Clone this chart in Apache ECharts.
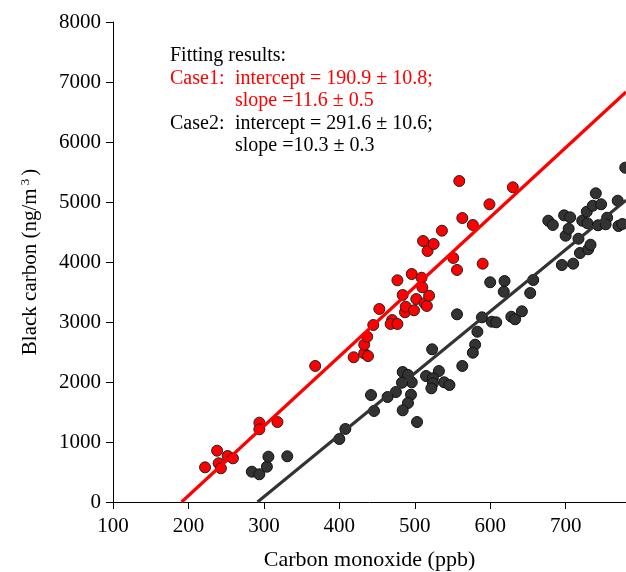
<!DOCTYPE html>
<html>
<head>
<meta charset="utf-8">
<script src="https://cdn.jsdelivr.net/npm/echarts@6/dist/echarts.min.js"></script>
<style>
html,body{margin:0;padding:0;background:#fff;}
#chart{width:626px;height:572px;}
</style>
</head>
<body>
<div id="chart"></div>
<script>
var xTicks = [100, 200, 300, 400, 500, 600, 700];
var yTicks = [0, 1000, 2000, 3000, 4000, 5000, 6000, 7000, 8000];

var case1X = [222,238,240,243,252,259,294,294,318,368,419,433,438,433,437,445,453,470,468,477,487,488,499,484,502,513,516,519,477,496,509,510,517,511,525,536,551,556,590,563,577,599,559,630];
var case1Y = [578,855,645,562,767,728,1322,1212,1333,2267,2412,2478,2433,2622,2755,2950,3217,3033,2967,2967,3162,3255,3195,3450,3383,3312,3267,3438,3695,3800,3738,3578,4183,4350,4300,4522,4067,3867,3972,4733,4617,4962,5350,5245];

var case2X = [284,294,304,306,331,400,408,442,446,484,491,532,515,524,496,483,524,539,546,522,475,464,495,491,484,503,556,589,602,608,628,633,642,583,580,577,523,563,600,619,618,657,653,695,710,719,730,733,717,700,704,677,683,698,706,722,729,728,736,747,740,755,743,753,769,770,775,779];
var case2Y = [505,462,588,755,762,1050,1217,1783,1517,2167,2117,2183,2100,2062,1995,1988,1978,1995,1950,1895,1833,1750,1788,1650,1528,1333,3128,3078,3005,2995,3088,3045,3178,2838,2622,2488,2545,2267,3662,3683,3505,3700,3483,3950,3972,4150,4212,4288,4388,4438,4555,4688,4617,4778,4745,4688,4645,4838,4938,4962,5145,4738,4612,4628,5022,4600,4633,5572];

var fitIntercept = [190.9, 291.6];
var fitSlope = [11.6, 10.3];
var xMin = 100, xMax = 780, yMin = 0, yMax = 8000;

var annoLines = [
  ["Fitting results:", ""],
  ["Case1:", "intercept = 190.9 \u00b1 10.8;"],
  ["", "slope =11.6 \u00b1 0.5"],
  ["Case2:", "intercept = 291.6 \u00b1 10.6;"],
  ["", "slope =10.3 \u00b1 0.3"]
];
var annoColors = ["#000", "#ff0000", "#ff0000", "#000", "#000"];

function zip(a, b) { return a.map(function (v, i) { return [v, b[i]]; }); }
function fitLine(k) {
  var b = fitIntercept[k], s = fitSlope[k];
  return [[b, 0], [xMax, s * (xMax - b)]];
}

var FONT = "Liberation Serif";
var chart = echarts.init(document.getElementById('chart'), null, {renderer: 'canvas'});

var graphics = [];
var annoY = [57, 80, 102, 125, 147];
annoLines.forEach(function (ln, i) {
  if (ln[0]) graphics.push({type: 'text', left: 170, top: annoY[i] - 11, style: {text: ln[0], fill: annoColors[i], font: '20px "' + FONT + '"'}});
  if (ln[1]) graphics.push({type: 'text', left: 235, top: annoY[i] - 11, style: {text: ln[1], fill: annoColors[i], font: '20px "' + FONT + '"'}});
});

var option = {
  backgroundColor: '#fff',
  animation: false,
  grid: {left: 113, right: 0, top: 22, bottom: 70, containLabel: false, outerBoundsMode: 'none'},
  xAxis: {
    type: 'value', min: xMin, max: xMax, interval: 100,
    name: 'Carbon monoxide (ppb)', nameLocation: 'middle', nameGap: 47,
    nameTextStyle: {fontFamily: FONT, fontSize: 22, color: '#000'},
    axisLine: {show: true, onZero: false, lineStyle: {color: '#000', width: 1}},
    axisTick: {show: true, inside: false, length: 7, lineStyle: {color: '#000'}, customValues: xTicks},
    axisLabel: {fontFamily: FONT, fontSize: 21, color: '#000', margin: 14, customValues: xTicks,
      formatter: function (v) { return String(v); }},
    splitLine: {show: false}
  },
  yAxis: {
    type: 'value', min: yMin, max: yMax, interval: 1000,
    name: 'Black carbon (ng/m{sup|3})', nameLocation: 'middle', nameGap: 71, nameRotate: 90,
    nameTextStyle: {fontFamily: FONT, fontSize: 21, color: '#000',
      rich: {sup: {fontFamily: FONT, fontSize: 13, color: '#000', verticalAlign: 'top', padding: [0, 3, 10, 3]}}},
    axisLine: {show: true, onZero: false, lineStyle: {color: '#000', width: 1}},
    axisTick: {show: true, inside: false, length: 7, lineStyle: {color: '#000'}, customValues: yTicks},
    axisLabel: {fontFamily: FONT, fontSize: 21, color: '#000', margin: 12, customValues: yTicks,
      formatter: function (v) { return String(v); }},
    splitLine: {show: false}
  },
  graphic: graphics,
  series: [
    {type: 'scatter', data: zip(case1X, case1Y), symbolSize: 11, z: 2,
      itemStyle: {color: '#ff0000', borderColor: '#222', borderWidth: 1, opacity: 1}},
    {type: 'scatter', data: zip(case2X, case2Y), symbolSize: 11, z: 2,
      itemStyle: {color: '#333333', borderColor: '#111', borderWidth: 1, opacity: 1}},
    {type: 'line', data: fitLine(0), symbol: 'none', z: 3, lineStyle: {color: '#ff0000', width: 3.2}},
    {type: 'line', data: fitLine(1), symbol: 'none', z: 3, lineStyle: {color: '#333333', width: 3.2}}
  ]
};
chart.setOption(option);
</script>
</body>
</html>
